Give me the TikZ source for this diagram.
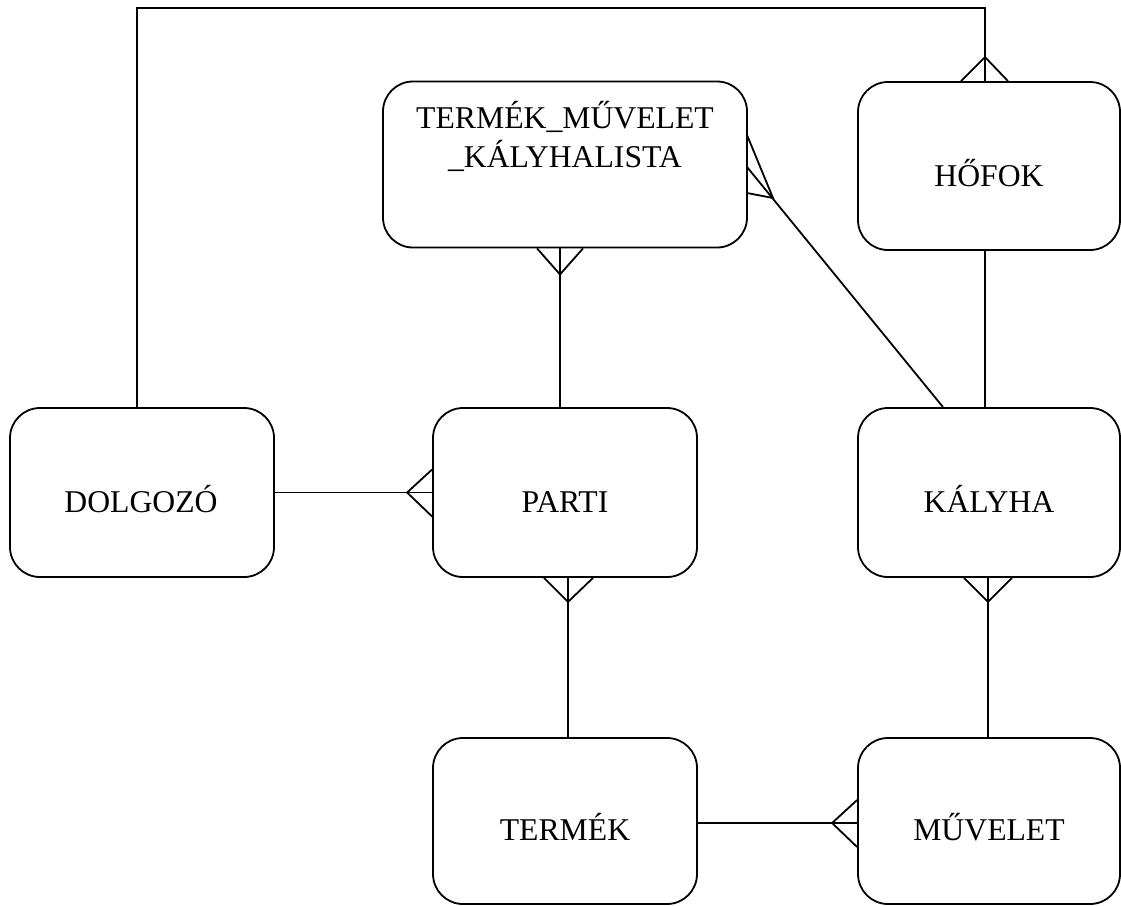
\documentclass[tikz,border=0pt]{standalone}
\usepackage{fontspec}
\setmainfont{Liberation Serif}
\usetikzlibrary{calc}
\begin{document}
\begin{tikzpicture}[x=1pt,y=-1pt,line width=1.8pt,line join=miter,
  entbox/.style={draw,rounded corners=30pt,inner sep=0pt},
  lbl/.style={anchor=base,inner sep=0pt,font=\fontsize{31.7}{38}\selectfont}]
\useasboundingbox (0,0) rectangle (1121,905);
% entity boxes
\node[entbox,minimum width=364pt,minimum height=166pt] (tmk) at (565,164.5) {};
\node[entbox,minimum width=262pt,minimum height=168pt] (hofok) at (989,166) {};
\node[entbox,minimum width=264pt,minimum height=169pt] (dolg) at (142,492.5) {};
\node[entbox,minimum width=264pt,minimum height=169pt] (parti) at (565,492.5) {};
\node[entbox,minimum width=262pt,minimum height=169pt] (kal) at (989,492.5) {};
\node[entbox,minimum width=264pt,minimum height=166pt] (termek) at (565,821) {};
\node[entbox,minimum width=262pt,minimum height=166pt] (muv) at (989,821) {};
% labels
\node[lbl] (tmkA) at (565,128) {TERMÉK\_MŰVELET};
\node[lbl] (tmkB) at (565,167) {\_KÁLYHALISTA};
\node[lbl] (hofokL) at ($(hofok.center)+(0,20)$) {HŐFOK};
\node[lbl] (dolgL) at ($(dolg.center)+(-1,19.5)$) {DOLGOZÓ};
\node[lbl] (partiL) at ($(parti.center)+(0,19.5)$) {PARTI};
\node[lbl] (kalL) at ($(kal.center)+(0,19.5)$) {KÁLYHA};
\node[lbl] (termekL) at ($(termek.center)+(0,19)$) {TERMÉK};
\node[lbl] (muvL) at ($(muv.center)+(0,19)$) {MŰVELET};
% DOLGOZO -- HOFOK (over the top)
\coordinate (corner) at (985,8);
\draw ($(dolg.north)+(-5,0)$) |- (corner) -- ($(hofok.north)+(-4,0)$);
\draw ($(hofok.north)+(-28,0)$) -- ($(hofok.north)+(-4,-24)$) -- ($(hofok.north)+(19,0)$);
% TMK -- PARTI
\draw ($(tmk.south)+(-5,0)$) -- ($(parti.north)+(-5,0)$);
\draw ($(tmk.south)+(-28,0)$) -- ($(tmk.south)+(-5,26)$) -- ($(tmk.south)+(18,0)$);
% TMK -- KALYHA
\coordinate (tmkR) at (747,167);
\coordinate (tmkApex) at (773,198);
\draw (tmkR) -- ($(kal.north)+(-46,0)$);
\draw (747,135) -- (tmkApex) -- (747,193);
% HOFOK -- KALYHA
\draw ($(hofok.south)+(-4,0)$) -- ($(kal.north)+(-4,0)$);
% DOLGOZO -- PARTI
\draw (dolg.east) -- (parti.west);
\draw ($(parti.west)+(0,-23)$) -- ($(parti.west)+(-25,0)$) -- ($(parti.west)+(0,24)$);
% PARTI -- TERMEK
\draw ($(parti.south)+(3,0)$) -- ($(termek.north)+(3,0)$);
\draw ($(parti.south)+(-21,0)$) -- ($(parti.south)+(3,24)$) -- ($(parti.south)+(28,0)$);
% KALYHA -- MUVELET
\draw ($(kal.south)+(-1,0)$) -- ($(muv.north)+(-1,0)$);
\draw ($(kal.south)+(-25,0)$) -- ($(kal.south)+(-1,24)$) -- ($(kal.south)+(23,0)$);
% TERMEK -- MUVELET
\draw ($(termek.east)+(0,2)$) -- ($(muv.west)+(0,2)$);
\draw ($(muv.west)+(0,-21)$) -- ($(muv.west)+(-25,2)$) -- ($(muv.west)+(0,26)$);
\end{tikzpicture}
\end{document}
